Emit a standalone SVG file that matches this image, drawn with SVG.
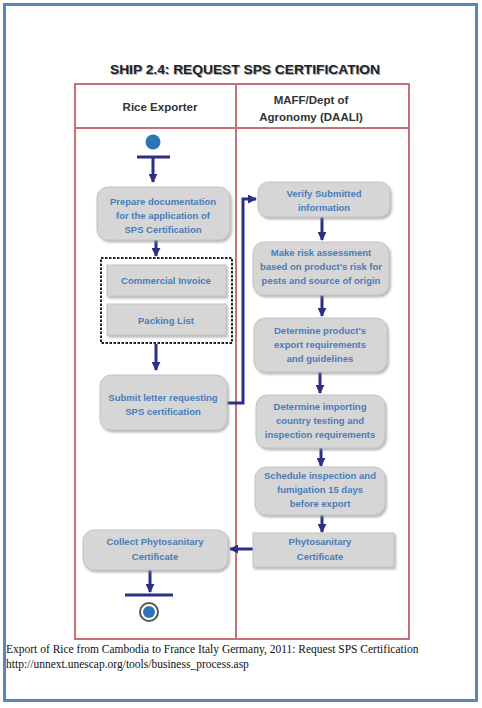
<svg xmlns="http://www.w3.org/2000/svg" width="482" height="708" viewBox="0 0 482 708">
<style>
.box{fill:#d6d6d6;stroke:#c4c4c4;stroke-width:1}
.bt{font-family:"Liberation Sans",Arial,sans-serif;font-weight:bold;font-size:9.5px;fill:#4a7cba;text-anchor:middle}
.ht{font-family:"Liberation Sans",Arial,sans-serif;font-weight:bold;font-size:11.5px;fill:#333;text-anchor:middle}
.pool{fill:none;stroke:#c8707a;stroke-width:2}
.fl{fill:none;stroke:#2c2f86;stroke-width:3}
.cap{font-family:"Liberation Serif","Times New Roman",serif;font-size:11.5px;fill:#111}
</style>
<defs>
<marker id="ah" viewBox="0 0 10 10" refX="9" refY="5" markerWidth="3" markerHeight="3" orient="auto" markerUnits="strokeWidth">
<path d="M0,0 L10,5 L0,10 z" fill="#2c2f86"/>
</marker>
<filter id="sh" x="-10%" y="-10%" width="130%" height="140%">
<feDropShadow dx="1.5" dy="2" stdDeviation="1.2" flood-color="#888" flood-opacity="0.6"/>
</filter>
<linearGradient id="g" x1="0" y1="0" x2="0" y2="1">
<stop offset="0" stop-color="#e2e2e2"/>
<stop offset="1" stop-color="#cfcfcf"/>
</linearGradient>
</defs>
<rect x="0" y="0" width="482" height="708" fill="#fff"/>
<rect x="4.5" y="4.5" width="472" height="696" fill="none" stroke="#5b86bd" stroke-width="3"/>
<text x="245" y="74" font-family="'Liberation Sans',Arial,sans-serif" font-weight="bold" font-size="13.5" fill="#aaa" text-anchor="middle" textLength="270" lengthAdjust="spacingAndGlyphs" transform="translate(1,1)">SHIP 2.4: REQUEST SPS CERTIFICATION</text>
<text x="245" y="74" font-family="'Liberation Sans',Arial,sans-serif" font-weight="bold" font-size="13.5" fill="#222" text-anchor="middle" textLength="270" lengthAdjust="spacingAndGlyphs">SHIP 2.4: REQUEST SPS CERTIFICATION</text>
<g id="pool">
<rect class="pool" x="75" y="84" width="334" height="555"/>
<line class="pool" x1="75" y1="128" x2="409" y2="128"/>
<line class="pool" x1="236" y1="84" x2="236" y2="639"/>
<text class="ht" x="160" y="111">Rice Exporter</text>
<text class="ht" x="311" y="104">MAFF/Dept of</text>
<text class="ht" x="311" y="121">Agronomy (DAALI)</text>
</g>
<g id="connectors">
<line class="fl" x1="153" y1="157" x2="153" y2="182" marker-end="url(#ah)"/>
<line class="fl" x1="156" y1="240" x2="156" y2="256" marker-end="url(#ah)"/>
<line class="fl" x1="156" y1="344" x2="156" y2="370" marker-end="url(#ah)"/>
<polyline class="fl" points="227,403 243,403 243,199 256,199" marker-end="url(#ah)"/>
<line class="fl" x1="322" y1="217" x2="322" y2="240" marker-end="url(#ah)"/>
<line class="fl" x1="322" y1="295" x2="322" y2="316" marker-end="url(#ah)"/>
<line class="fl" x1="320" y1="372" x2="320" y2="393" marker-end="url(#ah)"/>
<line class="fl" x1="321" y1="448" x2="321" y2="466" marker-end="url(#ah)"/>
<line class="fl" x1="322" y1="515" x2="322" y2="532" marker-end="url(#ah)"/>
<line class="fl" x1="253" y1="549" x2="230" y2="549" marker-end="url(#ah)"/>
<line class="fl" x1="150" y1="570" x2="150" y2="592" marker-end="url(#ah)"/>
</g>
<g id="start">
<circle cx="153" cy="142" r="7.5" fill="#2e75b6"/>
<line x1="137" y1="157" x2="170" y2="157" stroke="#2c2f86" stroke-width="3"/>
</g>
<g id="prepare">
<rect class="box" x="97" y="187" width="133" height="53" rx="11" fill="url(#g)" filter="url(#sh)"/>
<text class="bt" x="163" y="205">Prepare documentation</text>
<text class="bt" x="163" y="219">for the application of</text>
<text class="bt" x="163" y="233">SPS Certification</text>
</g>
<g id="docs">
<rect x="101" y="258" width="131" height="85" fill="none" stroke="#222" stroke-width="2" stroke-dasharray="2.5,1.5"/>
</g>
<g id="invoice">
<rect class="box" x="107" y="265" width="119" height="31" fill="url(#g)" filter="url(#sh)"/>
<text class="bt" x="166" y="284">Commercial Invoice</text>
</g>
<g id="packing">
<rect class="box" x="107" y="304" width="119" height="31" fill="url(#g)" filter="url(#sh)"/>
<text class="bt" x="166" y="324">Packing List</text>
</g>
<g id="submit">
<rect class="box" x="100" y="375" width="127" height="55" rx="11" fill="url(#g)" filter="url(#sh)"/>
<text class="bt" x="163" y="401">Submit letter requesting</text>
<text class="bt" x="163" y="415">SPS certification</text>
</g>
<g id="verify">
<rect class="box" x="258" y="182" width="132" height="35" rx="10" fill="url(#g)" filter="url(#sh)"/>
<text class="bt" x="324" y="197">Verify Submitted</text>
<text class="bt" x="324" y="211">information</text>
</g>
<g id="risk">
<rect class="box" x="253" y="242" width="136" height="53" rx="11" fill="url(#g)" filter="url(#sh)"/>
<text class="bt" x="321" y="256">Make risk assessment</text>
<text class="bt" x="321" y="270">based on product's risk for</text>
<text class="bt" x="321" y="284">pests and source of origin</text>
</g>
<g id="determine1">
<rect class="box" x="254" y="318" width="133" height="54" rx="11" fill="url(#g)" filter="url(#sh)"/>
<text class="bt" x="320" y="334">Determine product's</text>
<text class="bt" x="320" y="348">export requirements</text>
<text class="bt" x="320" y="362">and guidelines</text>
</g>
<g id="determine2">
<rect class="box" x="256" y="395" width="129" height="53" rx="11" fill="url(#g)" filter="url(#sh)"/>
<text class="bt" x="320" y="410">Determine importing</text>
<text class="bt" x="320" y="424">country testing and</text>
<text class="bt" x="320" y="438">inspection requirements</text>
</g>
<g id="schedule">
<rect class="box" x="255" y="467" width="130" height="48" rx="11" fill="url(#g)" filter="url(#sh)"/>
<text class="bt" x="320" y="479">Schedule inspection and</text>
<text class="bt" x="320" y="493">fumigation 15 days</text>
<text class="bt" x="320" y="507">before export</text>
</g>
<g id="phyto">
<rect class="box" x="253" y="533" width="141" height="34" fill="url(#g)" filter="url(#sh)"/>
<text class="bt" x="320" y="545">Phytosanitary</text>
<text class="bt" x="320" y="560">Certificate</text>
</g>
<g id="collect">
<rect class="box" x="83" y="530" width="145" height="40" rx="11" fill="url(#g)" filter="url(#sh)"/>
<text class="bt" x="155" y="545">Collect Phytosanitary</text>
<text class="bt" x="155" y="560">Certificate</text>
</g>
<g id="end">
<line x1="125" y1="595" x2="173" y2="595" stroke="#2c2f86" stroke-width="3"/>
<circle cx="149" cy="612" r="9" fill="#fff" stroke="#555" stroke-width="2"/>
<circle cx="149" cy="612" r="6" fill="#2e75b6"/>
</g>
<text class="cap" x="6" y="653">Export of Rice from Cambodia to France Italy Germany, 2011: Request SPS Certification</text>
<text class="cap" x="6" y="668">http://unnext.unescap.org/tools/business_process.asp</text>
</svg>
